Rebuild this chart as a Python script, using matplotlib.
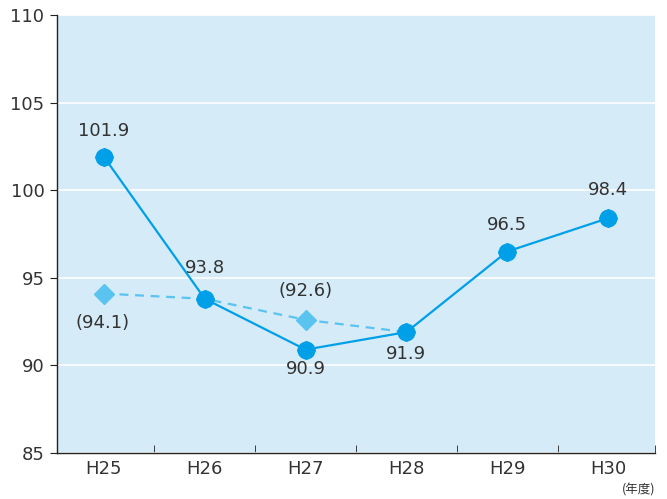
import matplotlib
matplotlib.use("Agg")
import matplotlib.pyplot as plt

plt.rcParams['font.family'] = ['DejaVu Sans', 'Noto Sans CJK JP']

categories = ["H25", "H26", "H27", "H28", "H29", "H30"]
main_values = [101.9, 93.8, 90.9, 91.9, 96.5, 98.4]
ref_values = [94.1, 93.8, 92.6, 91.9]
main_labels = ["101.9", "93.8", "90.9", "91.9", "96.5", "98.4"]
ref_labels = {0: "(94.1)", 2: "(92.6)"}
yticks = [85, 90, 95, 100, 105, 110]

main_color = "#00a0e9"
ref_color = "#5bc3f0"
bg = "#d5ebf8"
txt = "#333333"

fig = plt.figure(figsize=(6.67, 4.99), dpi=100)
ax = fig.add_axes([57/667, 1-453/499, (655-57)/667, (453-15)/499])
ax.set_facecolor(bg)

x = list(range(len(categories)))
xr = list(range(len(ref_values)))

ax.plot(xr, ref_values, color=ref_color, lw=1.6, ls=(0, (4, 3)), zorder=2)
ax.plot([xr[i] for i in ref_labels], [ref_values[i] for i in ref_labels],
        ls='none', marker='D', ms=10, color=ref_color, zorder=3)

ax.plot(x, main_values, color=main_color, lw=1.6, zorder=4)
ax.plot(x, main_values, ls='none', marker='D', ms=9, color=main_color, zorder=5)
ax.plot(x, main_values, ls='none', marker='o', ms=12, color=main_color, zorder=6)

fs = 13
offsets = [(0, 19), (0, 22), (0, -14), (0, -16), (0, 19), (0, 20)]
for i, (v, lab) in enumerate(zip(main_values, main_labels)):
    ax.annotate(lab, (i, v), xytext=offsets[i], textcoords='offset points',
                ha='center', va='center', fontsize=fs, color=txt, zorder=7)
ref_off = {0: (-1, -21), 2: (0, 21)}
for i, lab in ref_labels.items():
    ax.annotate(lab, (i, ref_values[i]), xytext=ref_off[i], textcoords='offset points',
                ha='center', va='center', fontsize=fs, color=txt, zorder=7)

ax.set_xlim(-0.466, 5.466)
ax.set_ylim(85, 110)
ax.set_yticks(yticks)
ax.set_yticklabels([str(t) for t in yticks], fontsize=fs, color=txt)
ax.yaxis.grid(True, color='white', lw=1.2)
ax.set_axisbelow(True)

ax.set_xticks(x)
ax.set_xticklabels(categories, fontsize=fs, color=txt)
ax.tick_params(axis='x', which='major', length=0, pad=5)
ax.set_xticks([i + 0.5 for i in x[:-1]] + [5.466], minor=True)
ax.tick_params(axis='x', which='minor', direction='in', length=6, color='#222222')
ax.tick_params(axis='y', direction='out', length=5, color='#222222', pad=4)

for s in ['top', 'right']:
    ax.spines[s].set_visible(False)
ax.spines['left'].set_color('#222222')
ax.spines['bottom'].set_color('#222222')
ax.spines['left'].set_linewidth(1.0)
ax.spines['bottom'].set_linewidth(1.0)

fig.text(655/667, 1-490/499, "(年度)", ha='right', va='center', fontsize=9, color=txt,
         family=['Noto Sans CJK JP', 'DejaVu Sans'])

fig.savefig("out.png", dpi=100)
